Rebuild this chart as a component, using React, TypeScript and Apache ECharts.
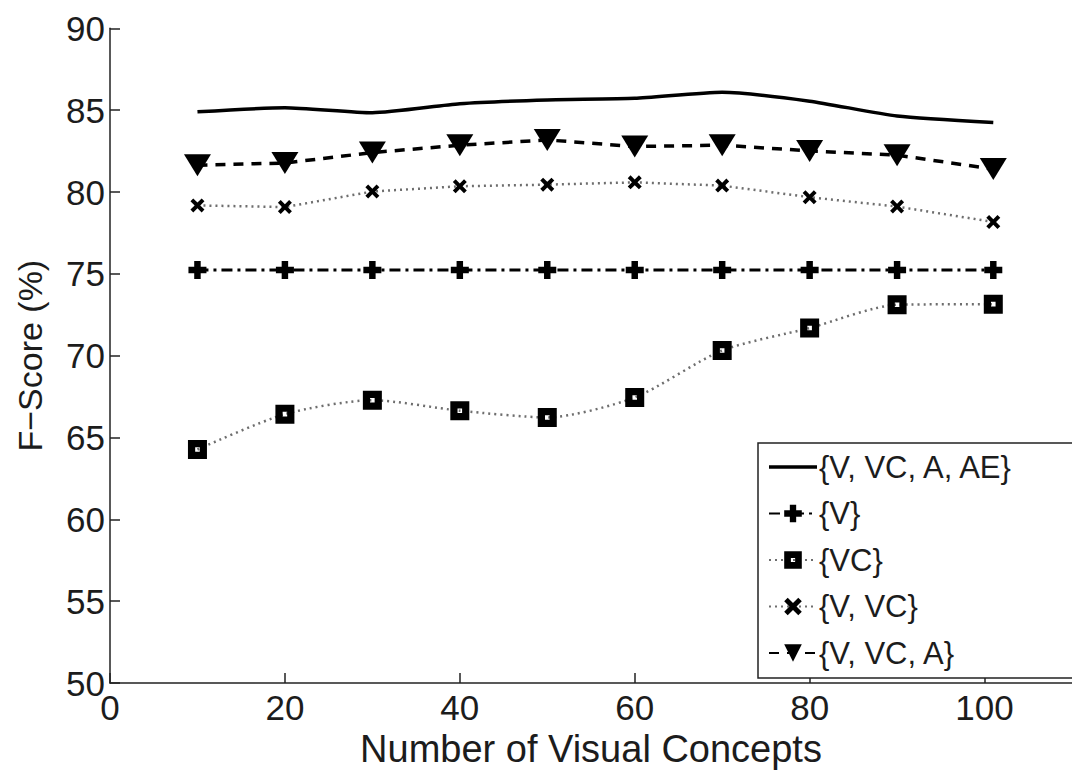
import React, { useEffect, useRef } from "react";
import * as echarts from "echarts";

const xValues = [10, 20, 30, 40, 50, 60, 70, 80, 90, 101];
const seriesNames = ["{V, VC, A, AE}", "{V}", "{VC}", "{V, VC}", "{V, VC, A}"];
const vVcAAe = [84.9, 85.15, 84.84, 85.39, 85.62, 85.72, 86.09, 85.55, 84.64, 84.24];
const vOnly = [75.23, 75.23, 75.23, 75.23, 75.23, 75.23, 75.23, 75.23, 75.23, 75.23];
const vcOnly = [64.27, 66.43, 67.28, 66.64, 66.23, 67.45, 70.32, 71.69, 73.11, 73.15];
const vVc = [79.18, 79.08, 80.03, 80.35, 80.45, 80.59, 80.39, 79.68, 79.11, 78.17];
const vVcA = [81.64, 81.77, 82.41, 82.86, 83.18, 82.78, 82.86, 82.51, 82.25, 81.4];
const yTicks = [50, 55, 60, 65, 70, 75, 80, 85, 90];
const xTicks = [0, 20, 40, 60, 80, 100];

const FONT = "'Liberation Sans', Arial, sans-serif";
const TXT = "#1c1c1c";

const plusPath = "path://M3.2,0 H6.8 V3.2 H10 V6.8 H6.8 V10 H3.2 V6.8 H0 V3.2 H3.2 Z";
const xPath = "path://M0,2 L2,0 L5,3 L8,0 L10,2 L7,5 L10,8 L8,10 L5,7 L2,10 L0,8 L3,5 Z";
const sqPath = "path://M0,0 H10 V10 H0 Z M3.8,3.8 V6.2 H6.2 V3.8 Z";
const solidLegendIcon =
  "path://M0,9.2 H48 V12.8 H0 Z M0,0 H0.1 V0.1 H0 Z M47.9,21.9 H48 V22 H47.9 Z";

const pairs = (ys: number[]) => xValues.map((x, i) => [x, ys[i]]);

export default function App() {
  const ref = useRef<HTMLDivElement>(null);
  useEffect(() => {
    document.body.style.margin = "0";
    const chart = echarts.init(ref.current!, null, { renderer: "svg" });
    chart.setOption({
      animation: false,
      backgroundColor: "#ffffff",
      grid: { left: 110, top: 28.3, bottom: 85.3, right: -13.7, containLabel: false },
      xAxis: {
        type: "value",
        min: 0,
        max: 110,
        interval: 20,
        name: "Number of Visual Concepts",
        nameLocation: "middle",
        nameGap: 44,
        nameTextStyle: { fontFamily: FONT, fontSize: 38, color: TXT },
        axisLine: { show: true, lineStyle: { color: "#222", width: 1.5 } },
        axisTick: { show: true, inside: true, length: 10, lineStyle: { color: "#222", width: 1.5 } },
        axisLabel: {
          fontFamily: FONT,
          fontSize: 35,
          color: TXT,
          margin: 7,
          showMaxLabel: false,
          formatter: (v: number) => (xTicks.includes(v) ? String(v) : ""),
        },
        splitLine: { show: false },
      },
      yAxis: {
        type: "value",
        min: 50,
        max: 90,
        interval: 5,
        name: "F\u2212Score (%)",
        nameLocation: "middle",
        nameGap: 63,
        nameTextStyle: { fontFamily: FONT, fontSize: 34, color: TXT },
        axisLine: { show: true, lineStyle: { color: "#222", width: 1.5 } },
        axisTick: { show: true, inside: true, length: 10, lineStyle: { color: "#222", width: 1.5 } },
        axisLabel: {
          fontFamily: FONT,
          fontSize: 35,
          color: TXT,
          margin: 5,
          formatter: (v: number) => (yTicks.includes(v) ? String(v) : ""),
        },
        splitLine: { show: false },
      },
      legend: {
        orient: "vertical",
        left: 758,
        top: 443,
        data: [
          { name: seriesNames[0], icon: solidLegendIcon },
          { name: seriesNames[1] },
          { name: seriesNames[2] },
          { name: seriesNames[3] },
          { name: seriesNames[4] },
        ],
        itemWidth: 48,
        itemHeight: 22,
        itemGap: 10.5,
        padding: [6, 70, 7, 10],
        borderColor: "#222",
        borderWidth: 1.5,
        backgroundColor: "#ffffff",
        textStyle: { fontFamily: FONT, fontSize: 31, color: TXT, lineHeight: 36, padding: [0, 0, 0, -3] },
      },
      series: [
        {
          name: seriesNames[0],
          type: "line",
          data: pairs(vVcAAe),
          smooth: 0.2,
          showSymbol: false,
          symbol: "none",
          lineStyle: { color: "#000", width: 3.5, type: "solid" },
          itemStyle: { color: "#000" },
        },
        {
          name: seriesNames[1],
          type: "line",
          data: pairs(vOnly),
          symbol: plusPath,
          symbolSize: 18,
          lineStyle: { color: "#000", width: 3, type: [11, 5, 3, 5] },
          itemStyle: { color: "#000" },
        },
        {
          name: seriesNames[2],
          type: "line",
          data: pairs(vcOnly),
          smooth: 0.25,
          symbol: sqPath,
          symbolSize: 19,
          lineStyle: { color: "#6e6e6e", width: 2.5, type: [2, 4] },
          itemStyle: { color: "#000" },
        },
        {
          name: seriesNames[3],
          type: "line",
          data: pairs(vVc),
          symbol: xPath,
          symbolSize: 14,
          lineStyle: { color: "#6e6e6e", width: 2.5, type: [2, 4] },
          itemStyle: { color: "#000" },
        },
        {
          name: seriesNames[4],
          type: "line",
          data: pairs(vVcA),
          symbol: "triangle",
          symbolRotate: 180,
          symbolSize: [27, 22],
          lineStyle: { color: "#000", width: 3.5, type: [10, 8] },
          itemStyle: { color: "#000" },
        },
      ],
    });
    return () => chart.dispose();
  }, []);
  return <div ref={ref} style={{ width: 1072, height: 773 }} />;
}
